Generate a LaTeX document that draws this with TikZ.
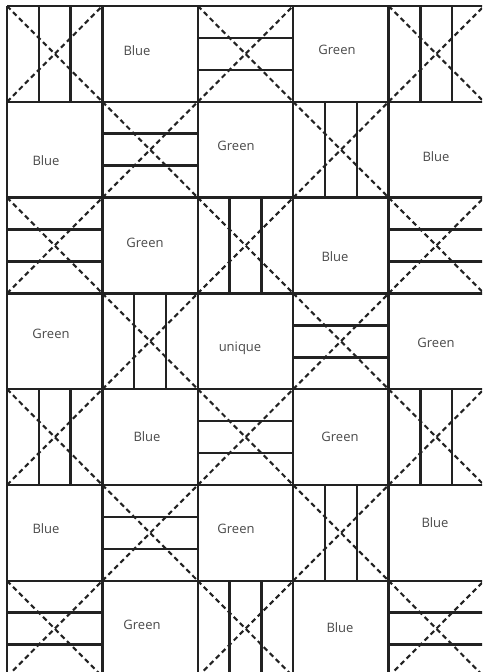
\documentclass[tikz,border=0pt]{standalone}
\usepackage{fontspec}
\setmainfont{Open Sans}
\definecolor{ink}{HTML}{222222}
\definecolor{txt}{HTML}{4A4A4A}
\begin{document}
\begin{tikzpicture}[x=1pt,y=-1pt,
  gridline/.style={draw=ink, line width=2.5pt},
  dsh/.style={draw=ink, line width=2.1pt, dash pattern=on 5pt off 3.5pt},
  lbl/.style={text=txt, font=\fontsize{13}{15}\selectfont, inner sep=0pt}]
\useasboundingbox (0,0) rectangle (482,672);
\fill[white] (0,0) rectangle (482,672);
\clip (0,0) rectangle (482,672);
\foreach \r in {0,...,6}{
  \foreach \c in {0,...,4}{
    \pgfmathsetmacro\xa{7+95.4*\c}
    \pgfmathsetmacro\xb{\xa+95.4}
    \pgfmathsetmacro\ya{6+95.8*\r}
    \pgfmathsetmacro\yb{\ya+95.8}
    \pgfmathtruncatemacro\pp{mod(\r+\c,2)}
    \ifnum\pp=0
      \pgfmathtruncatemacro\ori{mod((\r+\c)/2,2)}
      \ifnum\ori=0
        \draw[gridline] ({\xa+31.8},\ya) -- ({\xa+31.8},\yb);
        \draw[gridline] ({\xa+63.6},\ya) -- ({\xa+63.6},\yb);
      \else
        \draw[gridline] (\xa,{\ya+31.9}) -- (\xb,{\ya+31.9});
        \draw[gridline] (\xa,{\ya+63.9}) -- (\xb,{\ya+63.9});
      \fi
      \draw[dsh] (\xa,\ya) -- (\xb,\yb);
      \draw[dsh] (\xa,\yb) -- (\xb,\ya);
    \fi
  }
}
\foreach \c in {0,...,5}{
  \draw[gridline] ({7+95.4*\c},6) -- ({7+95.4*\c},677);
}
\foreach \r in {0,...,7}{
  \draw[gridline] (7,{6+95.8*\r}) -- (484,{6+95.8*\r});
}
% labels
\node[lbl] (b01) at (137,51) {Blue};
\node[lbl] (g03) at (337,50) {Green};
\node[lbl] (b10) at (46,161) {Blue};
\node[lbl] (g12) at (236,146) {Green};
\node[lbl] (b14) at (436,157) {Blue};
\node[lbl] (g21) at (145,243) {Green};
\node[lbl] (b23) at (335,257) {Blue};
\node[lbl] (g30) at (51,334) {Green};
\node[lbl] (u32) at (240,348) {unique};
\node[lbl] (g34) at (436,343) {Green};
\node[lbl] (b41) at (147,437) {Blue};
\node[lbl] (g43) at (340,437) {Green};
\node[lbl] (b50) at (46,529) {Blue};
\node[lbl] (g52) at (236,529) {Green};
\node[lbl] (b54) at (435,523) {Blue};
\node[lbl] (g61) at (142,625) {Green};
\node[lbl] (b63) at (340,628) {Blue};
\end{tikzpicture}
\end{document}
